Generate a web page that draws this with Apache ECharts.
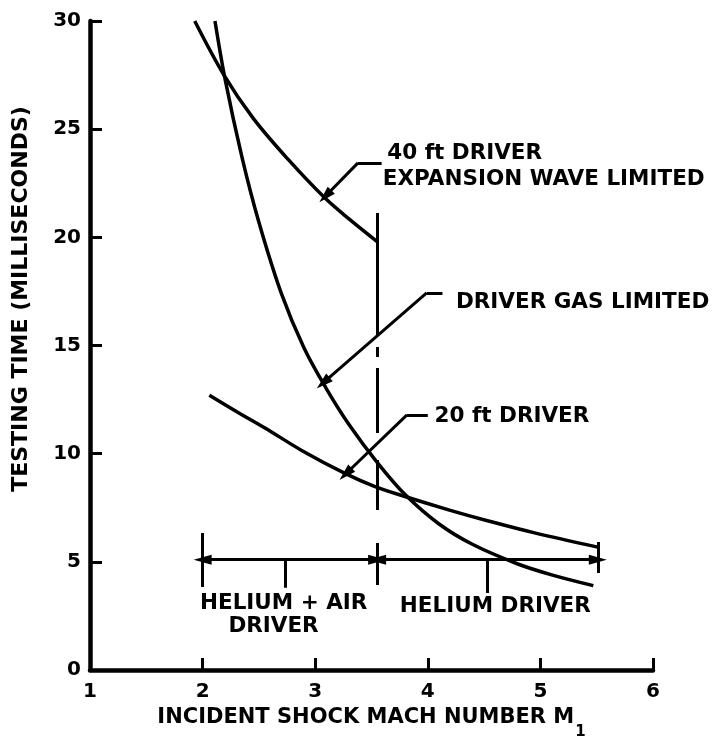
<!DOCTYPE html>
<html><head><meta charset="utf-8">
<script src="https://cdn.jsdelivr.net/npm/echarts@6/dist/echarts.min.js"></script>
<style>html,body{margin:0;padding:0;background:#fff}#c{width:712px;height:738px}</style>
</head><body><div id="c"></div>
<script>
// ---- axis ranges / ticks ----
const xRange = [1, 6];
const xStep = 1;
const yRange = [0, 30];
const yStep = 5;

// ---- curves (incident shock Mach number, testing time ms) ----
const ewl40X = [1.93, 2.19, 2.45, 2.76, 3.08, 3.30, 3.55];
const ewl40Y = [30.0, 27.5, 25.5, 23.6, 21.85, 20.85, 19.8];

const gasX = [2.11, 2.20, 2.35, 2.50, 2.70, 2.90, 3.10, 3.30, 3.55, 3.80, 4.10, 4.40, 4.80, 5.10, 5.47];
const gasY = [30.0, 27.3, 23.7, 20.7, 17.4, 14.9, 13.0, 11.35, 9.6, 8.1, 6.75, 5.8, 4.9, 4.4, 3.9];

const ft20X = [2.06, 2.30, 2.55, 2.88, 3.26, 3.52, 3.79, 4.20, 4.53, 4.94, 5.51];
const ft20Y = [12.7, 11.95, 11.2, 10.15, 9.1, 8.5, 8.03, 7.38, 6.9, 6.35, 5.68];

// ---- driver boundary (dash-dot vertical) ----
const boundaryX = 3.55;
const boundaryDashes = [[21.13, 15.49], [14.93, 14.47], [13.96, 10.96], [9.71, 7.40]];

// ---- driver range annotation ----
const rangeY = 5.1;
const rangeEnds = [2.0, 3.55, 5.51];
const rangeBars = [[2.0, 6.33, 3.84], [3.55, 5.87, 3.93], [5.51, 5.92, 4.48]];
const rangeTicks = [[2.73, 5.1, 3.8], [4.53, 5.1, 3.56]];

// ---- leader lines: [start, elbow, arrow tip] ----
const leader40 = [[3.59, 23.44], [3.38, 23.44], [3.09, 21.9]];
const leaderGas = [[4.13, 17.43], [3.99, 17.43], [3.07, 13.27]];
const leader20 = [[4.00, 11.79], [3.815, 11.79], [3.27, 9.06]];

// ---- annotation texts ----
const noteText = ['40 ft DRIVER', 'EXPANSION WAVE LIMITED', 'DRIVER GAS LIMITED', '20 ft DRIVER', 'HELIUM + AIR', 'DRIVER', 'HELIUM DRIVER'];
const noteX = [3.64, 3.60, 4.25, 4.06, 2.72, 2.63, 4.60];
const noteY = [23.9, 22.7, 16.97, 11.7, 3.07, 2.0, 2.96];
const noteAlign = ['left', 'left', 'left', 'left', 'center', 'center', 'center'];

const yTitle = 'TESTING TIME (MILLISECONDS)';
const xTitle = 'INCIDENT SHOCK MACH NUMBER M';
const xTitleSub = '1';

const FONT = "'DejaVu Sans'";
const zip = (xs, ys) => xs.map((x, i) => [x, ys[i]]);

const plainSegs = [];
boundaryDashes.forEach(d => plainSegs.push({coords: [[boundaryX, d[0]], [boundaryX, d[1]]]}));
rangeBars.forEach(b => plainSegs.push({coords: [[b[0], b[1]], [b[0], b[2]]]}));
rangeTicks.forEach(t => plainSegs.push({coords: [[t[0], t[1]], [t[0], t[2]]]}));
[leader40, leaderGas, leader20].forEach(l => plainSegs.push({coords: [l[0], l[1]]}));
const leaderArrows = [leader40, leaderGas, leader20].map(l => ({coords: [l[1], l[2]]}));
const rangeArrows = [
  {coords: [[rangeEnds[0], rangeY], [rangeEnds[1], rangeY]]},
  {coords: [[rangeEnds[1], rangeY], [rangeEnds[2], rangeY]]}
];

const curveStyle = {color: '#000', width: 3.5};
const curve = (name, data) => ({
  name, type: 'line', data, smooth: 0.35, showSymbol: false,
  lineStyle: curveStyle, itemStyle: {color: '#000'}, silent: true, animation: false
});

const chart = echarts.init(document.getElementById('c'), null, {renderer: 'canvas'});
const option = {
  backgroundColor: '#fff',
  animation: false,
  grid: {left: 90, right: 59, top: 21, bottom: 68, containLabel: false, outerBoundsMode: 'none'},
  xAxis: {
    type: 'value', min: xRange[0], max: xRange[1], interval: xStep,
    axisLine: {show: true, lineStyle: {color: '#000', width: 4.5}},
    axisTick: {show: true, inside: true, length: 12, lineStyle: {color: '#000', width: 3}},
    splitLine: {show: false},
    axisLabel: {color: '#000', fontFamily: FONT, fontWeight: 'bold', fontSize: 20, margin: 12},
    name: '{t|' + xTitle + '}{sub|' + xTitleSub + '}',
    nameLocation: 'middle', nameGap: 23,
    nameTextStyle: {
      color: '#000', fontFamily: FONT, fontWeight: 'bold', fontSize: 21,
      rich: {
        t: {fontFamily: FONT, fontWeight: 'bold', fontSize: 21, lineHeight: 34, verticalAlign: 'top', color: '#000'},
        sub: {fontFamily: FONT, fontWeight: 'bold', fontSize: 15, lineHeight: 34, verticalAlign: 'bottom', color: '#000', padding: [0, 0, 1, 1]}
      }
    }
  },
  yAxis: {
    type: 'value', min: yRange[0], max: yRange[1], interval: yStep,
    axisLine: {show: true, lineStyle: {color: '#000', width: 4.5}},
    axisTick: {show: true, inside: true, length: 12, lineStyle: {color: '#000', width: 3}},
    splitLine: {show: false},
    axisLabel: {color: '#000', fontFamily: FONT, fontWeight: 'bold', fontSize: 20, margin: 9}
  },
  series: [
    curve('40 ft driver expansion wave limited', zip(ewl40X, ewl40Y)),
    curve('Driver gas limited', zip(gasX, gasY)),
    curve('20 ft driver', zip(ft20X, ft20Y)),
    {
      type: 'lines', coordinateSystem: 'cartesian2d', data: plainSegs, symbol: 'none',
      lineStyle: {color: '#000', width: 3, opacity: 1}, silent: true, animation: false
    },
    {
      type: 'lines', coordinateSystem: 'cartesian2d', data: leaderArrows,
      symbol: ['none', 'triangle'], symbolSize: [[10, 17], [10, 17]],
      lineStyle: {color: '#000', width: 3, opacity: 1}, itemStyle: {color: '#000'}, silent: true, animation: false
    },
    {
      type: 'lines', coordinateSystem: 'cartesian2d', data: rangeArrows,
      symbol: ['triangle', 'triangle'], symbolSize: [[10, 18], [10, 18]],
      lineStyle: {color: '#000', width: 3, opacity: 1}, itemStyle: {color: '#000'}, silent: true, animation: false
    }
  ]
};
chart.setOption(option);

const font = "bold 21.5px " + FONT;
const graphics = noteText.map((t, i) => {
  const p = chart.convertToPixel({gridIndex: 0}, [noteX[i], noteY[i]]);
  return {
    type: 'text', x: p[0], y: p[1], silent: true,
    style: {text: t, font, fill: '#000', align: noteAlign[i], verticalAlign: 'middle',
            textAlign: noteAlign[i], textVerticalAlign: 'middle'}
  };
});
graphics.push({
  type: 'text', x: 21, y: 299, rotation: Math.PI / 2, silent: true,
  style: {text: yTitle, font: "bold 22px " + FONT, fill: '#000', align: 'center', verticalAlign: 'middle',
          textAlign: 'center', textVerticalAlign: 'middle'}
});
chart.setOption({graphic: graphics});
</script>
</body></html>
